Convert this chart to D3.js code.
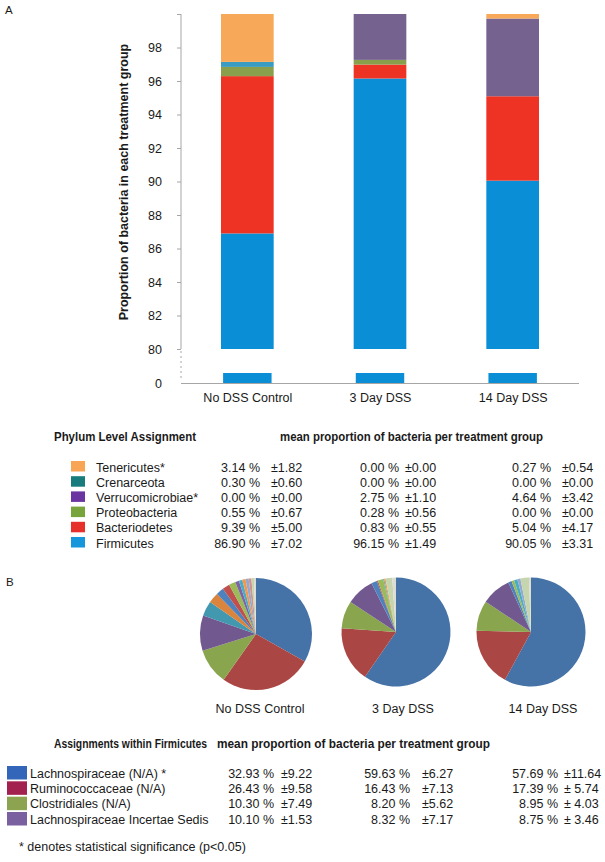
<!DOCTYPE html>
<html><head><meta charset="utf-8">
<script src="https://cdn.jsdelivr.net/npm/d3@7"></script>
<style>
body{margin:0;background:#fff}
svg text{font-family:"Liberation Sans",Arial,Helvetica,sans-serif;fill:#1a1a1a;white-space:pre}
</style></head><body><svg id="c" width="605" height="862"></svg>
<script>
// ---------- DATA ----------
const groups = ["No DSS Control", "3 Day DSS", "14 Day DSS"];

// Phylum level (stack order bottom -> top)
const phyla = ["Firmicutes", "Bacteriodetes", "Proteobacteria", "Verrucomicrobiae*", "Crenarceota", "Tenericutes*"];
const firmicutesMean       = [86.90, 96.15, 90.05];
const firmicutesSd         = [7.02, 1.49, 3.31];
const bacteriodetesMean    = [9.39, 0.83, 5.04];
const bacteriodetesSd      = [5.00, 0.55, 4.17];
const proteobacteriaMean   = [0.55, 0.28, 0.00];
const proteobacteriaSd     = [0.67, 0.56, 0.00];
const verrucomicrobiaeMean = [0.00, 2.75, 4.64];
const verrucomicrobiaeSd   = [0.00, 1.10, 3.42];
const crenarceotaMean      = [0.30, 0.00, 0.00];
const crenarceotaSd        = [0.60, 0.00, 0.00];
const tenericutesMean      = [3.14, 0.00, 0.27];
const tenericutesSd        = [1.82, 0.00, 0.54];

const upperTicks = [80, 82, 84, 86, 88, 90, 92, 94, 96, 98, 100];
const lowerTicks = [0];

// Families within Firmicutes
const families = ["Lachnospiraceae (N/A) *", "Ruminococcaceae (N/A)", "Clostridiales (N/A)", "Lachnospiraceae Incertae Sedis"];
const lachnoMean    = [32.93, 59.63, 57.69];
const lachnoSd      = [9.22, 6.27, 11.64];
const ruminoMean    = [26.43, 16.43, 17.39];
const ruminoSd      = [9.58, 7.13, 5.74];
const clostridMean  = [10.30, 8.20, 8.95];
const clostridSd    = [7.49, 5.62, 4.03];
const incertaeMean  = [10.10, 8.32, 8.75];
const incertaeSd    = [1.53, 7.17, 3.46];

// remaining small families in each pie
const otherControl = [4.3, 3.0, 2.2, 2.1, 1.9, 1.1, 1.0, 0.9, 0.9, 0.8, 0.7, 0.6];
const other3Day    = [0.0, 0.0, 1.7, 0.3, 1.6, 0.0, 0.3, 0.4, 0.0, 0.0, 2.0, 1.1];
const other14Day   = [0.0, 0.0, 1.0, 0.0, 0.8, 0.0, 1.0, 0.0, 0.9, 0.0, 2.5, 0.6];

// ---------- STYLE ----------
const barColors = {"Firmicutes":"#0a8ed6","Bacteriodetes":"#ee3224","Proteobacteria":"#8a9f4c",
  "Verrucomicrobiae*":"#76628f","Crenarceota":"#3a9cc0","Tenericutes*":"#f7a959"};
const legendColors = {"Firmicutes":"#1797db","Bacteriodetes":"#e8302a","Proteobacteria":"#78a43c",
  "Verrucomicrobiae*":"#6a35a0","Crenarceota":"#187c7c","Tenericutes*":"#f8a655"};
const pieColors = ["#4572a7","#aa4643","#89a54e","#71588f","#4198af","#db843d",
  "#4f81bd","#c0504d","#9bbb59","#8064a2","#4bacc6","#f79646","#93a9cf","#d19392","#c5d5ad","#dcdcd4"];
const familyLegendColors = ["#3366b8","#a3214e","#8ca44f","#7b60a0"];
const axisColor = "#a6a6a6";

const svg = d3.select("#c");

// ---------- PANEL A: stacked bars ----------
const phylumMeans = {"Firmicutes":firmicutesMean,"Bacteriodetes":bacteriodetesMean,"Proteobacteria":proteobacteriaMean,
  "Verrucomicrobiae*":verrucomicrobiaeMean,"Crenarceota":crenarceotaMean,"Tenericutes*":tenericutesMean};
const phylumSds = {"Firmicutes":firmicutesSd,"Bacteriodetes":bacteriodetesSd,"Proteobacteria":proteobacteriaSd,
  "Verrucomicrobiae*":verrucomicrobiaeSd,"Crenarceota":crenarceotaSd,"Tenericutes*":tenericutesSd};
const rows = groups.map((g, i) => { const r = {group: g}; phyla.forEach(p => r[p] = phylumMeans[p][i]); return r; });
const series = d3.stack().keys(phyla)(rows);

const x = d3.scalePoint().domain(groups).range([181, 579]).padding(0.5);
const barW = x.step() * 0.397;
const yTop = d3.scaleLinear().domain([80, 100]).range([349, 14]).clamp(true);
const yLow = d3.scaleLinear().domain([0, 1]).range([383, 373]).clamp(true);

svg.append("text").attr("x", 5).attr("y", 14).style("font-size", "11.5px").text("A");

const gBars = svg.append("g");
series.forEach(s => {
  s.forEach((d, i) => {
    const yt = yTop(d[1]), yb = yTop(d[0]);
    if (yb - yt > 0) gBars.append("rect").attr("x", x(groups[i]) - barW / 2).attr("y", yt)
      .attr("width", barW).attr("height", yb - yt).attr("fill", barColors[s.key]);
    const lt = yLow(d[1]), lb = yLow(d[0]);
    if (lb - lt > 0) gBars.append("rect").attr("x", x(groups[i]) - barW * 0.46).attr("y", lt)
      .attr("width", barW * 0.92).attr("height", lb - lt).attr("fill", barColors[s.key]);
  });
});

// upper axis
const axU = svg.append("g").attr("transform", "translate(181,0)")
  .call(d3.axisLeft(yTop).tickValues(upperTicks).tickSize(4).tickPadding(15).tickFormat(d => d === 100 ? "" : d));
axU.select(".domain").attr("stroke", axisColor).attr("d", "M0,14V349");
axU.selectAll(".tick line").attr("stroke", axisColor);
axU.selectAll(".tick text").style("font-size", "12.5px").style("font-family", "Liberation Sans, Arial, sans-serif").attr("fill", "#1a1a1a");
// break
svg.append("line").attr("x1", 181).attr("x2", 181).attr("y1", 351).attr("y2", 379)
  .attr("stroke", axisColor).attr("stroke-dasharray", "2,3");
// lower axis
const axL = svg.append("g").attr("transform", "translate(181,0)")
  .call(d3.axisLeft(yLow).tickValues(lowerTicks).tickSize(0).tickPadding(19).tickFormat(d3.format("d")));
axL.select(".domain").remove();
axL.selectAll(".tick text").style("font-size", "12.5px").style("font-family", "Liberation Sans, Arial, sans-serif").attr("fill", "#1a1a1a");
// x axis
const axX = svg.append("g").attr("transform", "translate(0,383)")
  .call(d3.axisBottom(x).tickSize(0).tickPadding(10));
axX.select(".domain").attr("stroke", axisColor).attr("d", "M181,0.5H579");
axX.selectAll(".tick text").style("font-size", "12.5px").style("font-family", "Liberation Sans, Arial, sans-serif").attr("fill", "#1a1a1a");

svg.append("text").attr("transform", "translate(128,182) rotate(-90)").attr("text-anchor", "middle")
  .style("font-size", "12.5px").style("font-weight", "bold").text("Proportion of bacteria in each treatment group");

// ---------- Phylum table ----------
svg.append("text").attr("x", 54).attr("y", 441).style("font-size", "12px").style("font-weight", "bold")
  .attr("textLength", 142).attr("lengthAdjust", "spacingAndGlyphs").text("Phylum Level Assignment");
svg.append("text").attr("x", 280).attr("y", 441).style("font-size", "12px").style("font-weight", "bold")
  .attr("textLength", 263).attr("lengthAdjust", "spacingAndGlyphs").text("mean proportion of bacteria per treatment group");

const legendOrder = phyla.slice().reverse();
const rowY = d3.scalePoint().domain(legendOrder).range([467, 543]);
const pctRight = [260, 399, 551], sdLeft = [271, 405, 562];
legendOrder.forEach(p => {
  const cy = rowY(p);
  svg.append("rect").attr("x", 71).attr("y", cy - 6).attr("width", 14).attr("height", 10.5).attr("fill", legendColors[p]);
  svg.append("text").attr("x", 96).attr("y", cy + 4.5).style("font-size", "12.5px").text(p);
  groups.forEach((g, i) => {
    svg.append("text").attr("x", pctRight[i]).attr("y", cy + 4.5).attr("text-anchor", "end")
      .style("font-size", "12.5px").text(phylumMeans[p][i].toFixed(2) + " %");
    svg.append("text").attr("x", sdLeft[i]).attr("y", cy + 4.5)
      .style("font-size", "12.5px").text("±" + phylumSds[p][i].toFixed(2));
  });
});

// ---------- PANEL B: pies ----------
svg.append("text").attr("x", 6).attr("y", 585.5).style("font-size", "11.5px").text("B");
const famMeans = [lachnoMean, ruminoMean, clostridMean, incertaeMean];
const famSds = [lachnoSd, ruminoSd, clostridSd, incertaeSd];
const others = [otherControl, other3Day, other14Day];
const pieCx = [256, 396, 531], pieCy = [634, 632, 632], pieR = [56, 54.5, 54.5];
const labelX = [260, 403, 543];
const pie = d3.pie().sort(null).value(d => d.v);
groups.forEach((g, i) => {
  const vals = famMeans.map(a => a[i]).concat(others[i]).map((v, k) => ({v, k}));
  const arc = d3.arc().innerRadius(0).outerRadius(pieR[i]);
  const gp = svg.append("g").attr("transform", `translate(${pieCx[i]},${pieCy[i]})`);
  gp.selectAll("path").data(pie(vals).filter(d => d.data.v > 0)).join("path")
    .attr("d", arc).attr("fill", d => pieColors[d.data.k]);
  svg.append("text").attr("x", labelX[i]).attr("y", 712.5).attr("text-anchor", "middle")
    .style("font-size", "12.5px").text(g);
});

// ---------- Firmicutes table ----------
svg.append("text").attr("x", 54).attr("y", 748).style("font-size", "12px").style("font-weight", "bold")
  .attr("textLength", 153).attr("lengthAdjust", "spacingAndGlyphs").text("Assignments within Firmicutes");
svg.append("text").attr("x", 217).attr("y", 748).style("font-size", "12px").style("font-weight", "bold")
  .attr("textLength", 273).attr("lengthAdjust", "spacingAndGlyphs").text("mean proportion of bacteria per treatment group");

const famY = d3.scalePoint().domain(families).range([773, 819]);
const fPctRight = [274, 410, 558], fSdLeft = [281, 422, 564];
families.forEach((f, j) => {
  const cy = famY(f);
  svg.append("rect").attr("x", 7).attr("y", cy - 7).attr("width", 20).attr("height", 13.5).attr("fill", familyLegendColors[j]);
  svg.append("text").attr("x", 30).attr("y", cy + 4.5).style("font-size", "12.5px").text(f);
  groups.forEach((g, i) => {
    svg.append("text").attr("x", fPctRight[i]).attr("y", cy + 4.5).attr("text-anchor", "end")
      .style("font-size", "12.5px").text(famMeans[j][i].toFixed(2) + " %");
    const s = i === 2 ? famSds[j][i].toFixed(2).padStart(5, " ") : famSds[j][i].toFixed(2);
    svg.append("text").attr("x", fSdLeft[i]).attr("y", cy + 4.5)
      .style("font-size", "12.5px").text("±" + s);
  });
});

svg.append("text").attr("x", 19).attr("y", 851).style("font-size", "12.5px")
  .text("* denotes statistical significance (p<0.05)");
</script></body></html>
